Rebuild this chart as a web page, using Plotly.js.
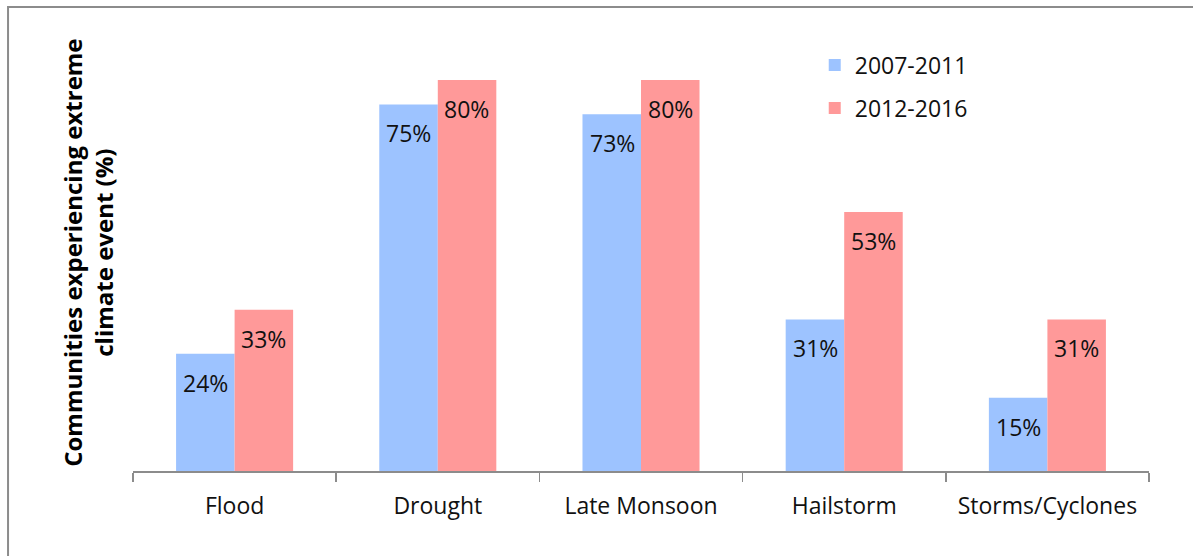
<!DOCTYPE html>
<html>
<head>
<meta charset="utf-8">
<script src="https://cdn.plot.ly/plotly-3.0.1.min.js"></script>
<style>html,body{margin:0;padding:0;background:#fff;}#chart{width:1193px;height:556px;}</style>
</head>
<body>
<div id="chart"></div>
<script>
const categories = ["Flood", "Drought", "Late Monsoon", "Hailstorm", "Storms/Cyclones"];
const series1Name = "2007-2011";
const series2Name = "2012-2016";
const series1 = [24, 75, 73, 31, 15];
const series2 = [33, 80, 80, 53, 31];

const FONT = "Open Sans, Noto Sans, sans-serif";
const blue = "#9DC3FF";
const red = "#FF9999";

const traces = [
  {type: "bar", x: categories, y: series1, name: series1Name, marker: {color: blue}, legendgroup: "a", hoverinfo: "none"},
  {type: "bar", x: categories, y: series2, name: series2Name, marker: {color: red}, legendgroup: "b", hoverinfo: "none"}
];

const annotations = [];
categories.forEach((c, i) => {
  annotations.push({x: c, y: series1[i], xref: "x", yref: "y", text: series1[i] + "%", showarrow: false,
    xshift: -29, yshift: -29, yanchor: "middle", font: {family: FONT, size: 23, color: "#111"}});
  annotations.push({x: c, y: series2[i], xref: "x", yref: "y", text: series2[i] + "%", showarrow: false,
    xshift: 29, yshift: -29, yanchor: "middle", font: {family: FONT, size: 23, color: "#111"}});
});
annotations.push({
  xref: "paper", yref: "paper", x: -0.0443, y: 0.558, xanchor: "center", yanchor: "middle",
  textangle: -90, showarrow: false,
  text: "<b>Communities experiencing extreme<br>climate event (%)</b>",
  font: {family: FONT, size: 24, color: "#000"}
});

const layout = {
  width: 1193, height: 556,
  margin: {l: 133, r: 44, t: 80, b: 85},
  paper_bgcolor: "#fff", plot_bgcolor: "#fff",
  font: {family: FONT, color: "#000"},
  barmode: "group", bargap: 0.424, bargroupgap: 0,
  xaxis: {
    type: "category", range: [-0.5, 4.5],
    showline: true, linecolor: "#8c8c8c", linewidth: 1.5,
    ticks: "outside", tickson: "boundaries", ticklen: 9, tickcolor: "#8c8c8c", tickwidth: 1.5,
    ticklabelstandoff: 14,
    tickfont: {family: FONT, size: 23, color: "#111"},
    showgrid: false, zeroline: false
  },
  yaxis: {
    range: [0, 80], showticklabels: false, showgrid: false, zeroline: false, showline: false, ticks: ""
  },
  showlegend: true,
  legend: {
    x: 0.671, y: 1.093, xanchor: "left", yanchor: "top",
    font: {family: FONT, size: 23, color: "#111"},
    traceorder: "grouped", tracegroupgap: 10, bgcolor: "rgba(0,0,0,0)"
  },
  annotations: annotations,
  shapes: [{
    type: "rect", xref: "paper", yref: "paper",
    x0: -0.123, x1: 1.2, y0: -0.4, y1: 1.187,
    line: {color: "#8c8c8c", width: 2}, fillcolor: "rgba(0,0,0,0)", layer: "below"
  }]
};

Plotly.newPlot("chart", traces, layout, {displayModeBar: false, staticPlot: true});
</script>
</body>
</html>
